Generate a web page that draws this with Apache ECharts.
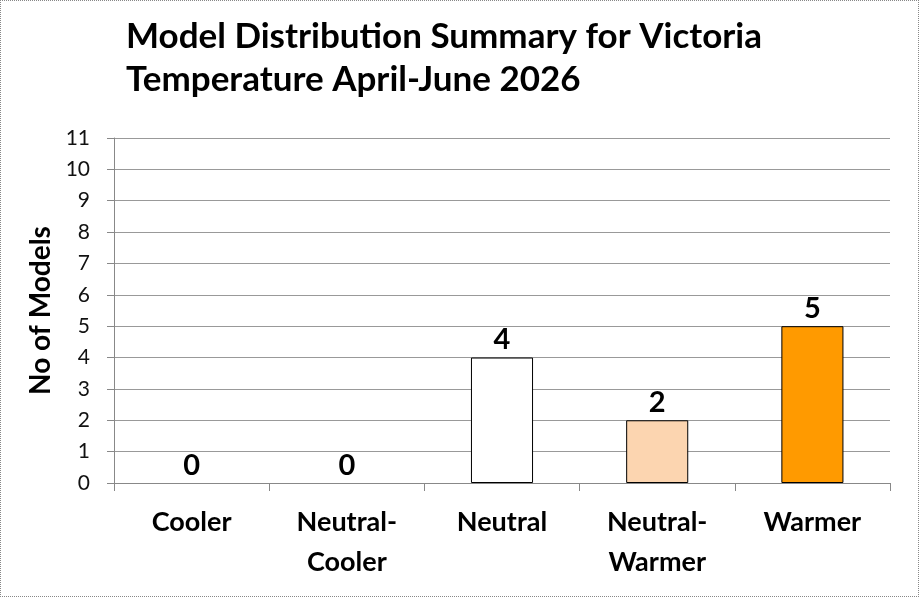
<!DOCTYPE html>
<html>
<head>
<meta charset="utf-8">
<script src="https://cdn.jsdelivr.net/npm/echarts@6/dist/echarts.min.js"></script>
<style>
html,body{margin:0;padding:0;background:#fff;}
#c{width:917px;height:595px;border:1px dotted #888;}
</style>
</head>
<body>
<div id="c"></div>
<script>
const titleLines = ['Model Distribution Summary for Victoria', 'Temperature April-June 2026'];
const categories = ['Cooler', 'Neutral-\nCooler', 'Neutral', 'Neutral-\nWarmer', 'Warmer'];
const values = [0, 0, 4, 2, 5];
const barColors = ['#ffffff', '#ffffff', '#ffffff', '#FCD5B0', '#FF9A00'];
const yTicks = [0, 1, 2, 3, 4, 5, 6, 7, 8, 9, 10, 11];
const yName = 'No of Models';

const chart = echarts.init(document.getElementById('c'));
const font = 'Lato, "Open Sans", sans-serif';
chart.setOption({
  animation: false,
  title: {
    text: titleLines.join('\n'),
    left: 120, top: 9,
    textStyle: {fontFamily: font, fontSize: 35, fontWeight: 'bold', color: '#000', lineHeight: 43}
  },
  grid: {left: 113, right: 28, top: 137, bottom: 113, containLabel: false},
  xAxis: {
    type: 'category',
    data: categories,
    axisLine: {lineStyle: {color: '#888', width: 1}},
    axisTick: {show: true, length: 8, alignWithLabel: false, lineStyle: {color: '#888'}},
    axisLabel: {fontFamily: font, fontSize: 27, fontWeight: 'bold', color: '#000', lineHeight: 40, margin: 19, interval: 0}
  },
  yAxis: {
    type: 'value',
    min: yTicks[0], max: yTicks[yTicks.length - 1], interval: 1,
    name: yName,
    nameLocation: 'middle',
    nameRotate: 90,
    nameGap: 59,
    nameTextStyle: {fontFamily: font, fontSize: 28, fontWeight: 'bold', color: '#000'},
    axisLine: {show: true, lineStyle: {color: '#888', width: 1}},
    axisTick: {show: true, length: 7, lineStyle: {color: '#888'}},
    axisLabel: {fontFamily: font, fontSize: 21, color: '#111', margin: 24},
    splitLine: {show: true, lineStyle: {color: '#999', width: 1}}
  },
  series: [{
    type: 'bar',
    barWidth: '40%',
    data: values.map((v, i) => ({value: v, itemStyle: {color: barColors[i], borderColor: '#000', borderWidth: v > 0 ? 1 : 0}})),
    label: {show: true, position: 'top', distance: 3, fontFamily: font, fontSize: 29, fontWeight: 'bold', color: '#000'}
  }]
});
</script>
</body>
</html>
